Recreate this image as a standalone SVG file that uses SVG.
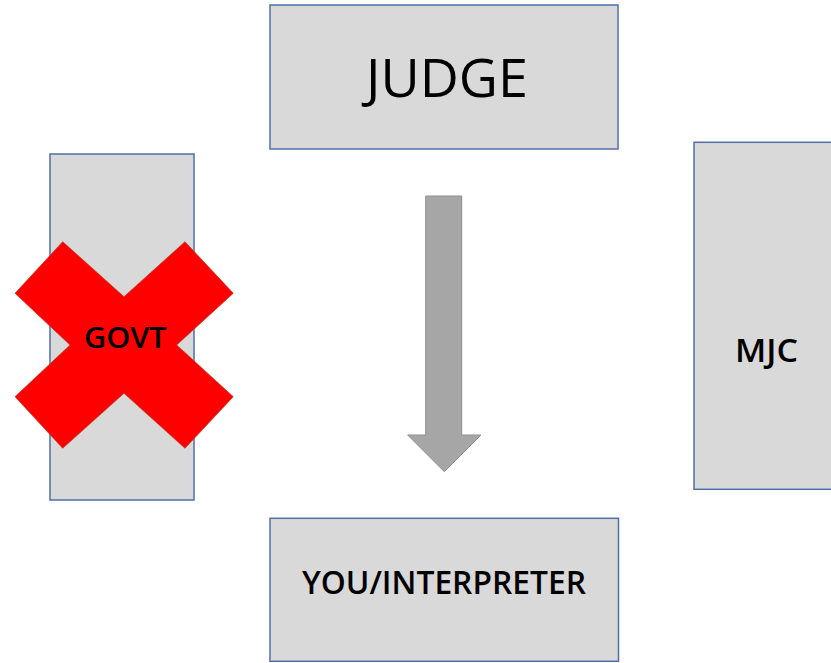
<svg xmlns="http://www.w3.org/2000/svg" width="831" height="663" viewBox="0 0 831 663">
<style>
.box{fill:#d9d9d9;stroke:#4f6fa8;stroke-width:1.5}
.lbl{font-family:"Open Sans","Noto Sans","Liberation Sans",sans-serif;fill:#000;text-anchor:middle}
.b{font-weight:600}
</style>
<rect width="831" height="663" fill="#fff"/>
<g id="judge">
<rect class="box" x="270" y="5" width="348" height="144"/>
<text class="lbl" x="447" y="97" font-size="53" textLength="162" lengthAdjust="spacingAndGlyphs">JUDGE</text>
</g>
<g id="govt">
<rect class="box" x="50" y="154" width="144" height="346"/>
<polygon fill="#ff0000" stroke="#b5402a" stroke-width="0.7" points="62.7,241.7 124,296.7 185,241.7 233.3,293.3 176.7,345 233.3,396.7 185,448.3 124,393.3 62.7,448.3 15,396.7 70,345 15,293.3"/>
<text class="lbl b" x="125.3" y="347.7" font-size="29" textLength="82.7" lengthAdjust="spacingAndGlyphs">GOVT</text>
</g>
<g id="mjc">
<rect class="box" x="694" y="142.3" width="150" height="347"/>
<text class="lbl b" x="766.5" y="361.7" font-size="32" textLength="63" lengthAdjust="spacingAndGlyphs">MJC</text>
</g>
<g id="interpreter">
<rect class="box" x="270" y="518.3" width="348.5" height="143"/>
<text class="lbl b" x="444" y="594.3" font-size="32" textLength="284" lengthAdjust="spacingAndGlyphs">YOU/INTERPRETER</text>
</g>
<g id="connectors">
<polygon fill="#a6a6a6" stroke="#8f8f8f" stroke-width="1" points="425.7,196 461.7,196 461.7,435 481,435 444.3,471.7 407.7,435 425.7,435"/>
</g>
</svg>
